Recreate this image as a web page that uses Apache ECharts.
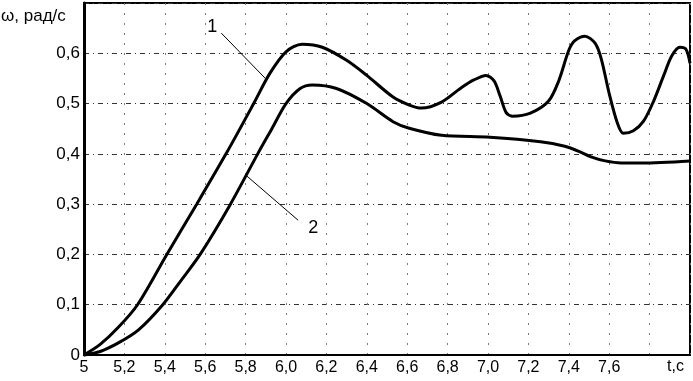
<!DOCTYPE html>
<html>
<head>
    <meta charset="utf-8">
    <title>ω(t)</title>
    <script src="https://cdn.jsdelivr.net/npm/echarts/dist/echarts.min.js"></script>
    <style type="text/css">
        * { margin: 0; padding: 0; }
        body { background: #fff; }
        #main { width: 693px; height: 381px; }
    </style>
</head>
<body>
<div id="main"></div>
<script type="text/javascript">
    // кривая 1
    var t1 = [5.00, 5.08, 5.17, 5.265, 5.41, 5.558, 5.703, 5.84, 5.92, 6.00, 6.08, 6.18, 6.30, 6.40, 6.53,
        6.61, 6.67, 6.77, 6.866, 6.93, 6.99, 7.03, 7.06, 7.09, 7.12, 7.21, 7.30, 7.35, 7.40, 7.43, 7.48,
        7.53, 7.56, 7.60, 7.64, 7.67, 7.72, 7.77, 7.82, 7.87, 7.91, 7.95, 7.98, 8.00];
    var w1 = [0.000, 0.021, 0.055, 0.100, 0.200, 0.300, 0.400, 0.500, 0.560, 0.603, 0.618, 0.612, 0.586, 0.556, 0.513,
        0.497, 0.491, 0.503, 0.531, 0.547, 0.556, 0.545, 0.515, 0.482, 0.475, 0.481, 0.505, 0.545, 0.606, 0.625, 0.634,
        0.620, 0.590, 0.520, 0.462, 0.441, 0.446, 0.465, 0.505, 0.556, 0.595, 0.612, 0.608, 0.580];
    // кривая 2
    var t2 = [5.00, 5.08, 5.17, 5.27, 5.39, 5.48, 5.575, 5.725, 5.86, 5.93, 6.00, 6.07, 6.13, 6.25, 6.40,
        6.53, 6.61, 6.77, 7.01, 7.26, 7.38, 7.45, 7.51, 7.58, 7.66, 7.76, 8.00];
    var w2 = [0.000, 0.007, 0.024, 0.050, 0.100, 0.148, 0.200, 0.300, 0.400, 0.450, 0.500, 0.530, 0.537, 0.530, 0.500,
        0.464, 0.451, 0.437, 0.433, 0.424, 0.415, 0.405, 0.394, 0.386, 0.382, 0.382, 0.386];

    function pairs(t, w) {
        var out = [];
        for (var i = 0; i < t.length; i++) out.push([t[i], w[i]]);
        return out;
    }

    var font = 'Liberation Sans';

    var myChart = echarts.init(document.getElementById('main'));

    var option = {
        animation: false,
        grid: { left: 84, right: 3, top: 3, bottom: 26, show: true, borderColor: '#000', borderWidth: 2 },
        xAxis: {
            type: 'value', min: 5, max: 8, interval: 0.2,
            axisLine: { show: true, lineStyle: { color: '#000', width: 2 } },
            axisTick: { show: false },
            splitLine: { show: true, lineStyle: { color: '#777', width: 1, type: [2, 8] } },
            axisLabel: {
                color: '#000', fontFamily: font, fontSize: 16, margin: 5,
                formatter: function (v) {
                    if (Math.abs(v - 5) < 1e-6) return '5';
                    if (v > 7.7) return '';
                    return v.toFixed(1).replace('.', ',');
                }
            }
        },
        yAxis: {
            type: 'value', min: 0, max: 0.7, interval: 0.1,
            axisLine: { show: true, lineStyle: { color: '#000', width: 3 } },
            axisTick: { show: false },
            splitLine: { show: true, lineStyle: { color: '#333', width: 1, type: [5, 4, 1, 4] } },
            axisLabel: {
                color: '#000', fontFamily: font, fontSize: 17, margin: 4,
                formatter: function (v) {
                    if (v < 1e-6) return '0';
                    if (v > 0.65) return '';
                    return v.toFixed(1).replace('.', ',');
                }
            }
        },
        graphic: [
            { type: 'text', left: 1, top: 8, style: { text: 'ω, рад/с', fill: '#000', font: '17px "Liberation Sans"' } },
            { type: 'text', left: 667, top: 359, style: { text: 't,c', fill: '#000', font: '16px "Liberation Sans"' } }
        ],
        series: [{
            name: '1',
            type: 'line',
            smooth: 0.3,
            showSymbol: false,
            lineStyle: { color: '#000', width: 3 },
            data: pairs(t1, w1),
            markLine: {
                silent: true, symbol: 'none',
                lineStyle: { color: '#000', width: 1, type: 'solid' },
                label: { show: false },
                data: [[{ coord: [5.68, 0.64] }, { coord: [5.905, 0.547] }]]
            },
            markPoint: {
                symbolSize: 0,
                label: { show: true, position: 'inside', color: '#000', fontFamily: font, fontSize: 18, formatter: '1' },
                data: [{ coord: [5.635, 0.652] }]
            }
        }, {
            name: '2',
            type: 'line',
            smooth: 0.3,
            showSymbol: false,
            lineStyle: { color: '#000', width: 3 },
            data: pairs(t2, w2),
            markLine: {
                silent: true, symbol: 'none',
                lineStyle: { color: '#000', width: 1, type: 'solid' },
                label: { show: false },
                data: [[{ coord: [5.80, 0.358] }, { coord: [6.06, 0.268] }]]
            },
            markPoint: {
                symbolSize: 0,
                label: { show: true, position: 'inside', color: '#000', fontFamily: font, fontSize: 18, formatter: '2' },
                data: [{ coord: [6.135, 0.253] }]
            }
        }]
    };

    myChart.setOption(option);
</script>
</body>
</html>
